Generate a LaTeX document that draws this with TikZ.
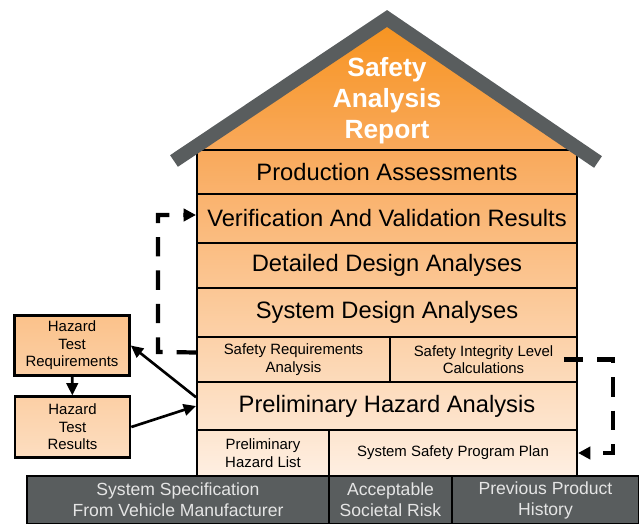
\documentclass[tikz,border=0pt]{standalone}
\usepackage{fontspec}
\setmainfont{Liberation Sans}
\usetikzlibrary{arrows.meta}
\definecolor{roofgray}{HTML}{595D5E}
\definecolor{orangetop}{HTML}{F7931E}
\definecolor{orangemid}{HTML}{F9A95B}
\definecolor{orangelow}{HTML}{FEEFE2}
\tikzset{
  layer/.style={draw=black, line width=1.2pt, inner sep=0pt, align=center,
    minimum width=7.6cm, font=\fontsize{13.5}{16}\selectfont},
  sublayer/.style={layer, font=\fontsize{8.5}{10}\selectfont},
  groundbox/.style={draw=black, line width=1.2pt, fill=roofgray, inner sep=0pt,
    minimum height=0.96cm, align=center, text=white!90!black,
    font=\fontsize{10}{12}\selectfont},
  testbox/.style={draw=black, line width=1.5pt, inner sep=0pt, align=center,
    minimum width=2.3cm, minimum height=1.21cm, font=\fontsize{8.5}{10}\selectfont},
  arr/.style={line width=1.5pt, -{Triangle[length=7pt,width=6.5pt]}},
  dashline/.style={line width=2.4pt, dash pattern=on 11pt off 8pt,
    -{Triangle[length=7pt,width=7pt]}},
}

\begin{document}
\begin{tikzpicture}[x=0.02cm, y=-0.02cm]
  \useasboundingbox (0,0) rectangle (639,524);
  %%%%% HOUSE %%%%%
  \shade[top color=orangemid, bottom color=orangelow] (197,150) rectangle (577,476);
  \shade[top color=orangetop, bottom color=orangemid] (387,18) -- (190,150) -- (584,150) -- cycle;

  \node[font=\fontsize{15}{17.6}\selectfont\bfseries, text=white, align=center] (sar) at (387,101)
    {Safety\\Analysis\\Report};

  \node[layer, minimum height=0.88cm] (pa) at (387,172) {Production Assessments};
  \node[layer, minimum height=0.98cm] (vv) at (387,218.5) {Verification And Validation Results};
  \node[layer, minimum height=0.9cm] (dda) at (387,265.5) {Detailed Design Analyses};
  \node[layer, minimum height=0.98cm] (sda) at (387,312.5) {System Design Analyses};
  \node[sublayer, minimum width=3.86cm, minimum height=0.9cm] (sra) at (293.5,359.5)
    {Safety Requirements\\Analysis};
  \node[sublayer, minimum width=3.74cm, minimum height=0.9cm] (sil) at (483.5,359.5)
    {Safety Integrity Level\\Calculations};
  \node[layer, minimum height=0.96cm] (pha) at (387,406) {Preliminary Hazard Analysis};
  \node[sublayer, minimum width=2.64cm, minimum height=0.92cm] (phl) at (263,453)
    {Preliminary\\Hazard List};
  \node[sublayer, minimum width=4.96cm, minimum height=0.92cm] (ssp) at (453,453)
    {System Safety Program Plan};

  % roof
  \draw[roofgray, line width=0.28cm, line join=miter] (174,161) -- (387,18.5) -- (598,162);

  %%%%% GROUND %%%%%
  \node[groundbox, minimum width=6.04cm] (vspec) at (178,500)
    {System Specification\\From Vehicle Manufacturer};
  \node[groundbox, minimum width=2.46cm] (risk) at (390.5,500) {Acceptable\\Societal Risk};
  \node[groundbox, minimum width=3.74cm] (hist) at (545.5,500) {Previous Product\\History};

  %%%%% TESTS %%%%%
  \node[testbox, top color=orangemid!65!orangelow, bottom color=orangemid!45!orangelow] (hreq)
    at (72,345.5) {Hazard\\Test\\Requirements};
  \node[testbox, top color=orangemid!45!orangelow, bottom color=orangemid!25!orangelow] (hres)
    at (72.5,427) {Hazard\\Test\\Results};

  \draw[arr] (hreq) -- (hres);
  \draw[arr] ([yshift=5pt]pha.west) -- (hreq.east);
  \draw[arr] (hres.east) -- (pha.west);

  % feedback loops
  \coordinate (loopl) at (158,352);
  \coordinate (loopr) at (613,359.5);
  \draw[dashline] ([yshift=4pt]sra.west) -- (loopl) |- ([yshift=2pt]vv.west);
  \draw[dashline] ([xshift=-8pt]sil.east) -- (loopr) -- (loopr |- ssp.east) -- (ssp.east);
\end{tikzpicture}
\end{document}
